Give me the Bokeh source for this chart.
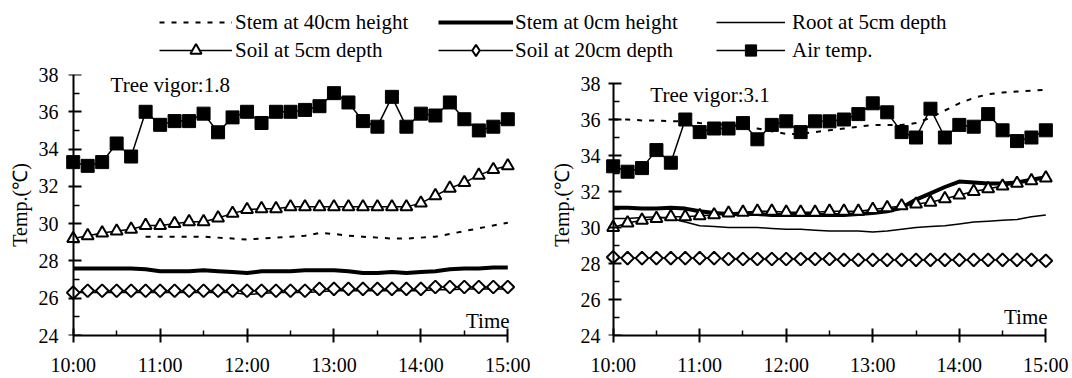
import math
from bokeh.plotting import figure
from bokeh.layouts import column, row
from bokeh.models import FixedTicker, Label, Legend, LegendItem, Range1d, LinearAxis
from bokeh.embed import file_html
from bokeh.resources import INLINE

nan = float("nan")

# ---------------- data ----------------
time_min = [0, 10, 20, 30, 40, 50, 60, 70, 80, 90, 100, 110, 120, 130, 140, 150,
            160, 170, 180, 190, 200, 210, 220, 230, 240, 250, 260, 270, 280, 290, 300]
x_tick_values = [10, 11, 12, 13, 14, 15]
x_tick_labels = ["10:00", "11:00", "12:00", "13:00", "14:00", "15:00"]
x_minor_ticks = [10.5, 11.5, 12.5, 13.5, 14.5]
y_tick_values = [24, 26, 28, 30, 32, 34, 36, 38]
y_minor_ticks = [25, 27, 29, 31, 33, 35, 37]

series_names = ["Stem at 40cm height", "Stem at 0cm height", "Root at 5cm depth",
                "Soil at 5cm depth", "Soil at 20cm depth", "Air temp."]

# Tree vigor 1.8
left_stem40 = [nan, nan, nan, nan, nan, 29.3, 29.3, 29.3, 29.3, 29.3, 29.25, 29.2, 29.15,
               29.2, 29.25, 29.3, 29.35, 29.5, 29.45, 29.35, 29.3, 29.25, 29.2, 29.2, 29.25,
               29.3, 29.45, 29.6, 29.75, 29.9, 30.05]
left_stem0 = [27.6, 27.6, 27.6, 27.6, 27.6, 27.55, 27.45, 27.45, 27.45, 27.5, 27.45, 27.4,
              27.35, 27.45, 27.45, 27.45, 27.5, 27.5, 27.5, 27.45, 27.35, 27.35, 27.4, 27.35,
              27.4, 27.45, 27.55, 27.6, 27.6, 27.65, 27.65]
left_root5 = [26.3, 26.3, 26.3, 26.3, 26.3, 26.3, 26.3, 26.3, 26.3, 26.3, 26.3, 26.3, 26.2,
              26.25, 26.3, 26.3, 26.3, 26.35, 26.4, 26.4, 26.4, 26.4, 26.4, 26.4, 26.4, 26.45,
              26.45, 26.5, 26.5, 26.5, 26.5]
left_soil5 = [29.2, 29.35, 29.5, 29.6, 29.7, 29.9, 29.9, 30.0, 30.1, 30.1, 30.3, 30.55, 30.75,
              30.8, 30.8, 30.9, 30.9, 30.9, 30.9, 30.9, 30.9, 30.9, 30.9, 30.9, 31.1, 31.5,
              31.9, 32.2, 32.6, 32.9, 33.1]
left_soil20 = [26.3, 26.4, 26.4, 26.4, 26.4, 26.4, 26.4, 26.4, 26.4, 26.4, 26.4, 26.4, 26.4,
               26.4, 26.4, 26.4, 26.4, 26.5, 26.5, 26.5, 26.5, 26.5, 26.5, 26.5, 26.5, 26.6,
               26.6, 26.6, 26.6, 26.6, 26.6]
left_air = [33.3, 33.1, 33.3, 34.3, 33.6, 36.0, 35.3, 35.5, 35.5, 35.9, 34.9, 35.7, 36.0,
            35.4, 36.0, 36.0, 36.1, 36.3, 37.0, 36.5, 35.5, 35.2, 36.8, 35.2, 35.9, 35.8,
            36.5, 35.6, 35.0, 35.2, 35.6]

# Tree vigor 3.1
right_stem40 = [36.0, 36.0, 35.95, 35.95, 35.9, 35.9, 35.8, 35.75, 35.7, 35.65, 35.5, 35.35,
                35.2, 35.2, 35.3, 35.4, 35.5, 35.6, 35.7, 35.7, 35.7, 35.8, 36.1, 36.5, 36.9,
                37.2, 37.4, 37.5, 37.55, 37.6, 37.65]
right_stem0 = [31.1, 31.1, 31.05, 31.05, 31.1, 31.05, 30.9, 30.8, 30.75, 30.75, 30.75, 30.7,
               30.7, 30.7, 30.7, 30.7, 30.7, 30.75, 30.8, 30.9, 31.1, 31.55, 31.9, 32.25,
               32.55, 32.5, 32.45, 32.45, 32.5, 32.65, 32.8]
right_root5 = [30.5, 30.5, 30.55, 30.6, 30.5, 30.3, 30.1, 30.05, 30.0, 30.0, 30.0, 29.95, 29.9,
               29.9, 29.85, 29.8, 29.8, 29.8, 29.75, 29.8, 29.9, 30.0, 30.05, 30.1, 30.2, 30.3,
               30.35, 30.4, 30.45, 30.6, 30.7]
right_soil5 = [30.0, 30.25, 30.4, 30.5, 30.6, 30.6, 30.65, 30.7, 30.8, 30.85, 30.9, 30.9,
               30.85, 30.85, 30.85, 30.9, 30.9, 30.9, 31.0, 31.1, 31.2, 31.3, 31.4, 31.6, 31.8,
               32.0, 32.15, 32.3, 32.45, 32.6, 32.75]
right_soil20 = [28.35, 28.3, 28.3, 28.3, 28.3, 28.3, 28.3, 28.3, 28.25, 28.25, 28.25, 28.25,
                28.25, 28.25, 28.25, 28.25, 28.2, 28.2, 28.2, 28.2, 28.2, 28.2, 28.2, 28.2,
                28.2, 28.2, 28.2, 28.2, 28.2, 28.2, 28.15]
right_air = [33.4, 33.1, 33.3, 34.3, 33.6, 36.0, 35.3, 35.5, 35.5, 35.8, 34.9, 35.7, 35.9,
             35.3, 35.9, 35.9, 36.0, 36.3, 36.9, 36.4, 35.3, 35.0, 36.6, 35.0, 35.7, 35.6,
             36.3, 35.4, 34.8, 35.0, 35.4]

vigor_labels = ["Tree vigor:1.8", "Tree vigor:3.1"]
y_axis_title = "Temp.(\u2103)"
x_axis_title = "Time"

hours = [10 + m / 60.0 for m in time_min]

FONT = "Liberation Serif"
BLACK = "black"


def make_panel(width, height, bl, br, data, y_top, vigor, vigor_y, ylab_standoff, time_y):
    stem40, stem0, root5, soil5, soil20, air = data
    p = figure(width=width, height=height,
               x_range=Range1d(9.9, 15.1), y_range=Range1d(24, y_top),
               toolbar_location=None, output_backend="svg", y_axis_location=None,
               min_border_left=bl, min_border_right=br,
               min_border_top=10, min_border_bottom=41)
    p.outline_line_color = None
    p.grid.visible = False
    p.background_fill_color = "white"
    p.border_fill_color = "white"

    # x axis
    xa = p.xaxis[0]
    xa.ticker = FixedTicker(ticks=x_tick_values, minor_ticks=x_minor_ticks)
    xa.major_label_overrides = {v: l for v, l in zip(x_tick_values, x_tick_labels)}
    xa.bounds = (10, 15)
    xa.axis_line_width = 2
    xa.major_tick_line_width = 2
    xa.minor_tick_line_width = 1.5
    xa.axis_line_color = BLACK
    xa.major_tick_line_color = BLACK
    xa.minor_tick_line_color = BLACK
    xa.major_tick_in = 7
    xa.major_tick_out = 7
    xa.minor_tick_in = 5
    xa.minor_tick_out = 0
    xa.major_label_standoff = 11
    xa.major_label_text_font = FONT
    xa.major_label_text_font_size = "20px"
    xa.major_label_text_color = BLACK

    # y axis: tick labels and title at the frame edge
    ylab = LinearAxis(ticker=FixedTicker(ticks=y_tick_values, minor_ticks=y_minor_ticks),
                      axis_line_color=None, major_tick_line_color=None,
                      minor_tick_line_color=None, major_tick_in=0, major_tick_out=0,
                      minor_tick_in=0, minor_tick_out=0,
                      major_label_standoff=ylab_standoff,
                      major_label_text_font=FONT, major_label_text_font_size="20px",
                      major_label_text_color=BLACK,
                      axis_label=y_axis_title, axis_label_standoff=5,
                      axis_label_text_font=FONT, axis_label_text_font_size="20px",
                      axis_label_text_font_style="normal", axis_label_text_color=BLACK)
    p.add_layout(ylab, "left")
    # y axis line and ticks drawn at 10:00
    yline = LinearAxis(ticker=FixedTicker(ticks=y_tick_values, minor_ticks=y_minor_ticks),
                       fixed_location=10, bounds=(24, 38),
                       axis_line_width=2, axis_line_color=BLACK,
                       major_tick_line_width=2, major_tick_line_color=BLACK,
                       minor_tick_line_width=1.5, minor_tick_line_color=BLACK,
                       major_tick_in=5, major_tick_out=8, minor_tick_in=0, minor_tick_out=6,
                       major_label_overrides={v: "" for v in y_tick_values},
                       major_label_text_font_size="0px", major_label_standoff=0)
    p.add_layout(yline, "right")

    # series
    p.line(hours, stem40, line_color=BLACK, line_width=2, line_dash="5 7")
    p.line(hours, stem0, line_color=BLACK, line_width=4)
    p.line(hours, root5, line_color=BLACK, line_width=1.5)
    p.line(hours, soil20, line_color=BLACK, line_width=1.5)
    p.scatter(hours, soil20, marker="square", angle=math.pi / 4, size=9,
              fill_color="white", line_color=BLACK, line_width=2)
    p.line(hours, soil5, line_color=BLACK, line_width=1.5)
    p.scatter(hours, soil5, marker="triangle", size=12,
              fill_color="white", line_color=BLACK, line_width=2)
    p.line(hours, air, line_color=BLACK, line_width=1.5)
    p.scatter(hours, air, marker="square", size=13,
              fill_color=BLACK, line_color=BLACK)

    # texts
    p.add_layout(Label(x=10.43, y=vigor_y, text=vigor, text_font=FONT,
                       text_font_size="21px", text_color=BLACK,
                       text_baseline="alphabetic"))
    p.add_layout(Label(x=15.02, y=time_y, text=x_axis_title, text_font=FONT,
                       text_font_size="21px", text_color=BLACK, text_align="right",
                       text_baseline="alphabetic"))
    return p


p1 = make_panel(538, 314, 64, 22,
                (left_stem40, left_stem0, left_root5, left_soil5, left_soil20, left_air),
                38.0, vigor_labels[0], 37.41, 6, 24.76)
p2 = make_panel(534, 314, 66, 18,
                (right_stem40, right_stem0, right_root5, right_soil5, right_soil20, right_air),
                38.5, vigor_labels[1], 37.34, 4, 25.03)

# ---------------- legend strip (renderers lie outside its visible range) ----------------
leg = figure(width=1072, height=64, x_range=Range1d(0, 1), y_range=Range1d(0, 1),
             toolbar_location=None, output_backend="svg",
             x_axis_location=None, y_axis_location=None,
             min_border_left=0, min_border_right=0, min_border_top=0, min_border_bottom=0)
leg.outline_line_color = None
leg.grid.visible = False

r_stem40 = leg.line(hours, right_stem40, line_color=BLACK, line_width=2, line_dash="5 7")
r_stem0 = leg.line(hours, right_stem0, line_color=BLACK, line_width=4)
r_root5 = leg.line(hours, right_root5, line_color=BLACK, line_width=1.5)
r_soil5_l = leg.line(hours, right_soil5, line_color=BLACK, line_width=1.5)
r_soil5_m = leg.scatter(hours, right_soil5, marker="triangle", fill_color="white",
                        line_color=BLACK, line_width=2)
r_soil20_l = leg.line(hours, right_soil20, line_color=BLACK, line_width=1.5)
r_soil20_m = leg.scatter(hours, right_soil20, marker="diamond", fill_color="white",
                         line_color=BLACK, line_width=2)
r_air_l = leg.line(hours, right_air, line_color=BLACK, line_width=1.5)
r_air_m = leg.scatter(hours, right_air, marker="square", fill_color=BLACK, line_color=BLACK)

columns_items = [
    ([LegendItem(label=series_names[0], renderers=[r_stem40]),
      LegendItem(label=series_names[3], renderers=[r_soil5_l, r_soil5_m])], 159, 73, 3),
    ([LegendItem(label=series_names[1], renderers=[r_stem0]),
      LegendItem(label=series_names[4], renderers=[r_soil20_l, r_soil20_m])], 438, 75, 2),
    ([LegendItem(label=series_names[2], renderers=[r_root5]),
      LegendItem(label=series_names[5], renderers=[r_air_l, r_air_m])], 716, 69, 7),
]
for items, lx, gw, stand in columns_items:
    lg = Legend(items=items, location=(lx, 0), orientation="vertical",
                glyph_width=gw, glyph_height=28, label_height=28, spacing=0,
                padding=0, margin=0, label_standoff=stand,
                border_line_color=None, background_fill_alpha=0,
                label_text_font=FONT, label_text_font_size="21px",
                label_text_color=BLACK)
    leg.add_layout(lg)

layout = column(leg, row(p1, p2, spacing=0), spacing=0)

open("out.html", "w").write(file_html(layout, INLINE))
